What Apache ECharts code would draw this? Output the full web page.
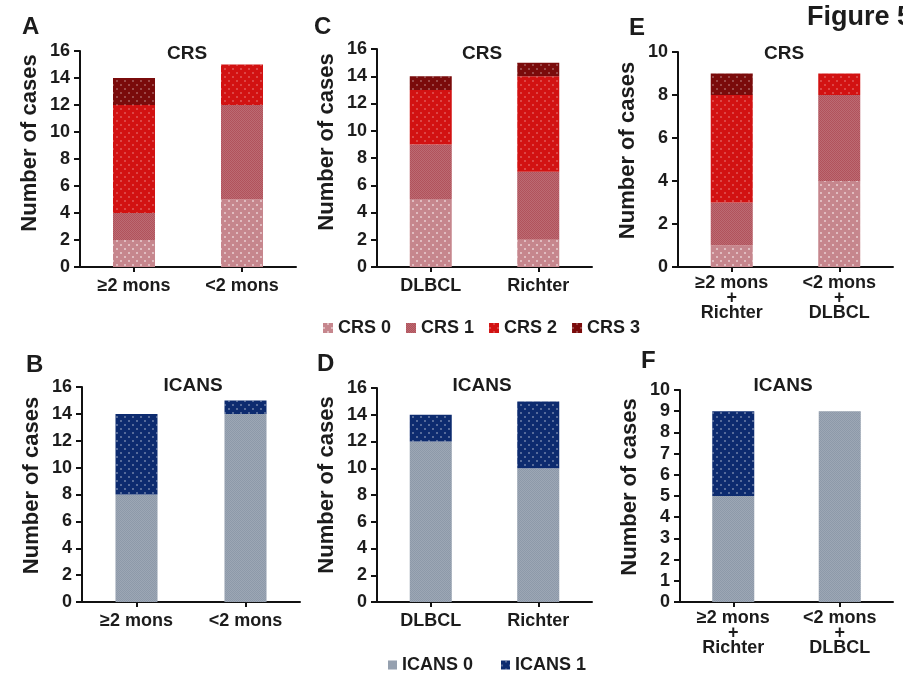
<!DOCTYPE html>
<html>
<head>
<meta charset="utf-8">
<script src="https://cdn.jsdelivr.net/npm/echarts@6/dist/echarts.min.js"></script>
<style>html,body{margin:0;padding:0;background:#fff;}#c{width:903px;height:675px;}</style>
</head>
<body>
<div id="c"></div>
<script>
// ---- data ----
const catsTime = ['≥2 mons', '<2 mons'];
const catsType = ['DLBCL', 'Richter'];
const catsCombo = ['≥2 mons\n+\nRichter', '<2 mons\n+\nDLBCL'];
const crsNames = ['CRS 0', 'CRS 1', 'CRS 2', 'CRS 3'];
const icansNames = ['ICANS 0', 'ICANS 1'];
// rows = grade, columns = category
const crsA = [[2, 5], [2, 7], [8, 3], [2, 0]];
const crsC = [[5, 2], [4, 5], [4, 7], [1, 1]];
const crsE = [[1, 4], [2, 4], [5, 1], [1, 0]];
const icansB = [[8, 14], [6, 1]];
const icansD = [[12, 10], [2, 5]];
const icansF = [[5, 9], [4, 0]];
const yMax16 = 16, yStep16 = 2;
const yMaxE = 10, yStepE = 2;
const yMaxF = 10, yStepF = 1;

// ---- styles ----
const FONT = '"Liberation Sans", Arial, sans-serif';
const TXT = '#1c1c1c';
const crsColors = ['#c6868d', '#b1525b', '#d21212', '#7a0b0b'];
const icansColors = ['#8d99a9', '#0d2b6f'];
function dots(alpha) {
  return { symbol: 'rect', symbolSize: 1, color: 'rgba(255,255,255,' + alpha + ')',
    dashArrayX: [[2, 6], [0, 4, 2, 2]], dashArrayY: [2, 2] };
}
function checker(alpha) {
  return { symbol: 'rect', symbolSize: 1, color: 'rgba(255,255,255,' + alpha + ')',
    dashArrayX: [[1, 1], [0, 1, 1, 0]], dashArrayY: [1, 0] };
}
const crsDecals = [dots(0.45), checker(0.15), dots(0.22), dots(0.25)];
const icansDecals = [checker(0.14), dots(0.3)];

const grids = [
  { left: 80, top: 51, width: 216, height: 216 },   // A
  { left: 377, top: 49, width: 215, height: 218 },  // C
  { left: 678, top: 52, width: 215, height: 215 },  // E
  { left: 82, top: 387, width: 218, height: 215 },  // B
  { left: 377, top: 388, width: 215, height: 214 }, // D
  { left: 680, top: 390, width: 213, height: 212 }  // F
];
const nameShift = [32, 32, 18, 18, 20, 18];
const xCats = [catsTime, catsType, catsCombo, catsTime, catsType, catsCombo];
const yMaxes = [yMax16, yMax16, yMaxE, yMax16, yMax16, yMaxF];
const ySteps = [yStep16, yStep16, yStepE, yStep16, yStep16, yStepF];

const axisLine = { show: true, lineStyle: { color: '#111', width: 2 } };
const xAxes = xCats.map((cats, i) => ({
  type: 'category', gridIndex: i, data: cats,
  axisLine: axisLine,
  axisTick: { show: true, alignWithLabel: true, length: 5, lineStyle: { color: '#111', width: 2 } },
  axisLabel: { color: TXT, fontFamily: FONT, fontWeight: 'bold', fontSize: 18,
    margin: (i === 2 || i === 5) ? 9 : 12, lineHeight: 15, interval: 0 }
}));
const yAxes = grids.map((g, i) => ({
  type: 'value', gridIndex: i, min: 0, max: yMaxes[i], interval: ySteps[i],
  axisLine: axisLine,
  axisTick: { show: true, length: 6, lineStyle: { color: '#111', width: 2 } },
  splitLine: { show: false },
  axisLabel: { color: TXT, fontFamily: FONT, fontWeight: 'bold', fontSize: 18, margin: 10 },
  name: 'Number of cases', nameLocation: 'middle', nameGap: 39,
  nameTextStyle: { color: TXT, fontFamily: FONT, fontWeight: 'bold', fontSize: 22,
    padding: [0, 0, 0, nameShift[i]] }
}));

const series = [];
function addPanel(values, names, colors, decals, idx) {
  values.forEach((vals, k) => {
    series.push({
      type: 'bar', name: names[k], xAxisIndex: idx, yAxisIndex: idx,
      stack: 'p' + idx, barWidth: 42, data: vals,
      itemStyle: { color: colors[k], decal: decals[k] },
      emphasis: { disabled: true }
    });
  });
}
addPanel(crsA, crsNames, crsColors, crsDecals, 0);
addPanel(crsC, crsNames, crsColors, crsDecals, 1);
addPanel(crsE, crsNames, crsColors, crsDecals, 2);
addPanel(icansB, icansNames, icansColors, icansDecals, 3);
addPanel(icansD, icansNames, icansColors, icansDecals, 4);
addPanel(icansF, icansNames, icansColors, icansDecals, 5);

function t(text, left, top, size, align) {
  return { text: text, left: left, top: top, padding: 0, textAlign: align || 'center',
    textStyle: { color: TXT, fontFamily: FONT, fontWeight: 'bold', fontSize: size } };
}
const titles = [
  t('CRS', 187, 44, 19), t('CRS', 482, 44, 19), t('CRS', 784, 44, 19),
  t('ICANS', 193, 376, 19), t('ICANS', 482, 376, 19), t('ICANS', 783, 376, 19),
  t('A', 22, 15, 24, 'left'), t('C', 314, 15, 24, 'left'), t('E', 629, 16, 24, 'left'),
  t('B', 26, 353, 24, 'left'), t('D', 317, 352, 24, 'left'), t('F', 641, 349, 24, 'left'),
  t('Figure 5', 807, 4, 27, 'left')
];

const chart = echarts.init(document.getElementById('c'), null, { renderer: 'canvas' });
chart.setOption({
  animation: false,
  backgroundColor: '#fff',
  title: titles,
  grid: grids,
  xAxis: xAxes,
  yAxis: yAxes,
  legend: [
    { data: crsNames, left: 318, top: 314, itemWidth: 10, itemHeight: 10, itemGap: 15,
      icon: 'rect', selectedMode: false,
      textStyle: { color: TXT, fontFamily: FONT, fontWeight: 'bold', fontSize: 18 } },
    { data: icansNames, left: 383, top: 651, itemWidth: 9, itemHeight: 9, itemGap: 28,
      icon: 'rect', selectedMode: false,
      textStyle: { color: TXT, fontFamily: FONT, fontWeight: 'bold', fontSize: 18 } }
  ],
  series: series
});
</script>
</body>
</html>
